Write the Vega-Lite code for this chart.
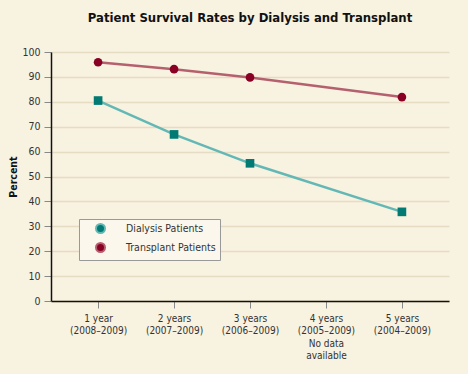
{
  "$schema": "https://vega.github.io/schema/vega-lite/v6.json",
  "width": 398,
  "height": 249,
  "autosize": {"type": "none"},
  "padding": {"left": 51, "top": 52, "right": 19, "bottom": 73},
  "background": "#f8f2e1",
  "config": {
    "view": {"stroke": null},
    "font": "'DejaVu Sans Condensed', 'Roboto Condensed', Roboto, sans-serif",
    "legend": {
      "title": null,
      "orient": "none",
      "legendX": 28,
      "legendY": 167,
      "padding": 4,
      "rowPadding": 2,
      "symbolSize": 81,
      "symbolStrokeWidth": 2,
      "symbolOffset": 12,
      "labelOffset": 20,
      "labelFontSize": 10.5,
      "labelColor": "#333333",
      "strokeColor": "#999999",
      "fillColor": "#fbf7ec"
    }
  },
  "title": {
    "text": "Patient Survival Rates by Dialysis and Transplant",
    "anchor": "middle",
    "fontSize": 13,
    "fontWeight": "bold",
    "color": "#111111",
    "offset": 22
  },
  "data": {
    "values": [
      {"period": "1 year|(2008–2009)", "series": "Dialysis Patients", "value": 80.5},
      {"period": "2 years|(2007–2009)", "series": "Dialysis Patients", "value": 66.9},
      {"period": "3 years|(2006–2009)", "series": "Dialysis Patients", "value": 55.3},
      {"period": "5 years|(2004–2009)", "series": "Dialysis Patients", "value": 35.8},
      {"period": "1 year|(2008–2009)", "series": "Transplant Patients", "value": 95.9},
      {"period": "2 years|(2007–2009)", "series": "Transplant Patients", "value": 93.1},
      {"period": "3 years|(2006–2009)", "series": "Transplant Patients", "value": 89.8},
      {"period": "5 years|(2004–2009)", "series": "Transplant Patients", "value": 81.9}
    ]
  },
  "encoding": {
    "x": {
      "field": "period",
      "type": "nominal",
      "sort": null,
      "scale": {
        "type": "point",
        "padding": 0.62,
        "domain": ["1 year|(2008–2009)", "2 years|(2007–2009)", "3 years|(2006–2009)", "4 years|(2005–2009)|No data|available", "5 years|(2004–2009)"]
      },
      "axis": {
        "title": null,
        "labelExpr": "split(datum.label, '|')",
        "labelAngle": 0,
        "labelFontSize": 10,
        "labelColor": "#333333",
        "labelLineHeight": 12.5,
        "labelPadding": 5,
        "tickSize": 7,
        "tickColor": "#888888",
        "tickWidth": 1,
        "domainColor": "#111111",
        "domainWidth": 1.5,
        "grid": false
      }
    },
    "y": {
      "field": "value",
      "type": "quantitative",
      "scale": {"domain": [0, 100]},
      "axis": {
        "title": "Percent",
        "titleFontSize": 10.5,
        "titleFontWeight": "bold",
        "titleColor": "#111111",
        "titlePadding": 3,
        "values": [0, 10, 20, 30, 40, 50, 60, 70, 80, 90, 100],
        "labelFontSize": 10.5,
        "labelColor": "#333333",
        "labelPadding": 4,
        "tickSize": 7,
        "tickColor": "#888888",
        "tickWidth": 1,
        "domainColor": "#111111",
        "domainWidth": 1.5,
        "grid": true,
        "gridColor": "#e6dcc4",
        "gridWidth": 1.5
      }
    }
  },
  "layer": [
    {
      "mark": {"type": "line", "strokeWidth": 2.5},
      "encoding": {
        "stroke": {
          "field": "series",
          "type": "nominal",
          "scale": {"domain": ["Dialysis Patients", "Transplant Patients"], "range": ["#63b8b5", "#b5606e"]}
        }
      }
    },
    {
      "mark": {"type": "point", "filled": true, "opacity": 1, "size": 75},
      "encoding": {
        "fill": {
          "field": "series",
          "type": "nominal",
          "scale": {"domain": ["Dialysis Patients", "Transplant Patients"], "range": ["#007a73", "#8a0025"]},
          "legend": {
            "encode": {
              "symbols": {
                "strokeWidth": {"value": 2},
                "opacity": {"value": 1}
              }
            }
          }
        },
        "shape": {
          "field": "series",
          "type": "nominal",
          "scale": {"domain": ["Transplant Patients", "Dialysis Patients"], "range": ["circle", "square"]},
          "legend": null
        }
      }
    }
  ]
}
